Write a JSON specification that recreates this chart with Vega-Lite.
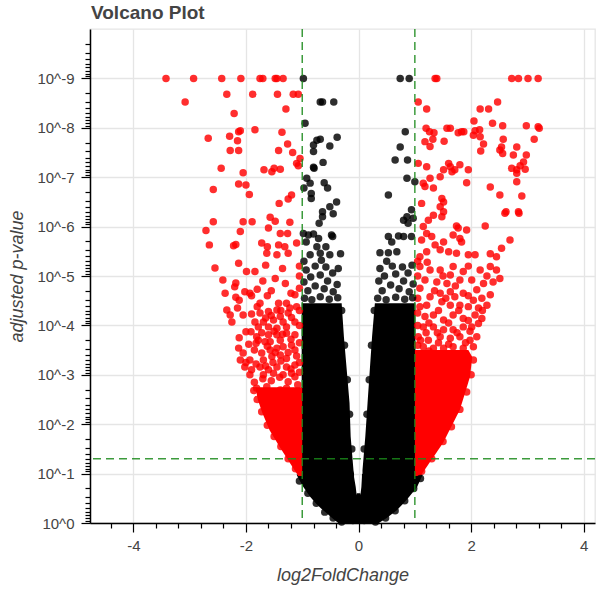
{
"$schema": "https://vega.github.io/schema/vega-lite/v6.json",
"width": 505, "height": 494,
"autosize": {"type": "none"},
"padding": {"left": 90, "top": 29, "right": 10, "bottom": 68},
"background": "white",
"title": {"text": "Volcano Plot", "anchor": "start", "frame": "group", "fontSize": 19, "font": "Liberation Sans", "fontWeight": "bold", "color": "#444444", "offset": 5, "dx": 1},
"config": {
 "view": {"stroke": "#e5e5e5", "strokeWidth": 1.3},
 "axis": {"labelFont": "Liberation Sans", "labelFontSize": 15, "labelColor": "#444444", "titleFont": "Liberation Sans", "titleFontSize": 18, "titleFontStyle": "italic", "titleFontWeight": "normal", "titleColor": "#444444", "domainColor": "#000000", "domainWidth": 1.5, "tickColor": "#000000", "tickWidth": 1.2, "gridColor": "#e5e5e5", "gridWidth": 1.3, "labelOverlap": false, "labelFlush": false, "tickCount": 1000}
},
"datasets": {
 "core": [
  {"grp":"bc","sig":"no","nlp":0.0,"lfc":-0.32,"lfc2":0.32},
  {"grp":"bc","sig":"no","nlp":0.2,"lfc":-0.2,"lfc2":0.2},
  {"grp":"bc","sig":"no","nlp":0.4,"lfc":-0.1,"lfc2":0.1},
  {"grp":"bc","sig":"no","nlp":0.6,"lfc":-0.03,"lfc2":0.03},
  {"grp":"bl","sig":"no","nlp":0.0,"lfc":-0.36,"lfc2":0.08},
  {"grp":"bl","sig":"no","nlp":0.1,"lfc":-0.47,"lfc2":0.08},
  {"grp":"bl","sig":"no","nlp":0.2,"lfc":-0.57,"lfc2":0.06},
  {"grp":"bl","sig":"no","nlp":0.3,"lfc":-0.67,"lfc2":0.04},
  {"grp":"bl","sig":"no","nlp":0.4,"lfc":-0.76,"lfc2":-0.01},
  {"grp":"bl","sig":"no","nlp":0.53,"lfc":-0.86,"lfc2":-0.03},
  {"grp":"bl","sig":"no","nlp":0.73,"lfc":-0.98,"lfc2":-0.05},
  {"grp":"bl","sig":"no","nlp":0.93,"lfc":-1.08,"lfc2":-0.08},
  {"grp":"bl","sig":"no","nlp":0.98,"lfc":-1.1,"lfc2":-0.08},
  {"grp":"bl","sig":"no","nlp":1.0,"lfc":-1.01,"lfc2":-0.08},
  {"grp":"bl","sig":"no","nlp":1.07,"lfc":-1.01,"lfc2":-0.09},
  {"grp":"bl","sig":"no","nlp":1.75,"lfc":-1.01,"lfc2":-0.14},
  {"grp":"bl","sig":"no","nlp":2.43,"lfc":-1.01,"lfc2":-0.16},
  {"grp":"bl","sig":"no","nlp":3.1,"lfc":-1.01,"lfc2":-0.21},
  {"grp":"bl","sig":"no","nlp":3.77,"lfc":-1.01,"lfc2":-0.26},
  {"grp":"bl","sig":"no","nlp":4.45,"lfc":-1.01,"lfc2":-0.3},
  {"grp":"br","sig":"no","nlp":0.0,"lfc":-0.08,"lfc2":0.36},
  {"grp":"br","sig":"no","nlp":0.1,"lfc":-0.08,"lfc2":0.5},
  {"grp":"br","sig":"no","nlp":0.26,"lfc":-0.05,"lfc2":0.68},
  {"grp":"br","sig":"no","nlp":0.4,"lfc":0.01,"lfc2":0.8},
  {"grp":"br","sig":"no","nlp":0.53,"lfc":0.03,"lfc2":0.9},
  {"grp":"br","sig":"no","nlp":0.73,"lfc":0.05,"lfc2":1.04},
  {"grp":"br","sig":"no","nlp":0.93,"lfc":0.06,"lfc2":1.12},
  {"grp":"br","sig":"no","nlp":0.98,"lfc":0.06,"lfc2":1.14},
  {"grp":"br","sig":"no","nlp":1.0,"lfc":0.07,"lfc2":1.01},
  {"grp":"br","sig":"no","nlp":1.07,"lfc":0.07,"lfc2":1.01},
  {"grp":"br","sig":"no","nlp":1.75,"lfc":0.12,"lfc2":1.01},
  {"grp":"br","sig":"no","nlp":2.43,"lfc":0.16,"lfc2":1.01},
  {"grp":"br","sig":"no","nlp":3.1,"lfc":0.2,"lfc2":1.01},
  {"grp":"br","sig":"no","nlp":3.77,"lfc":0.24,"lfc2":1.01},
  {"grp":"br","sig":"no","nlp":4.45,"lfc":0.29,"lfc2":1.01},
  {"grp":"rl","sig":"yes","nlp":0.95,"lfc":-1.07,"lfc2":-1.0},
  {"grp":"rl","sig":"yes","nlp":1.13,"lfc":-1.17,"lfc2":-1.0},
  {"grp":"rl","sig":"yes","nlp":1.54,"lfc":-1.4,"lfc2":-1.0},
  {"grp":"rl","sig":"yes","nlp":1.88,"lfc":-1.58,"lfc2":-1.0},
  {"grp":"rl","sig":"yes","nlp":2.23,"lfc":-1.71,"lfc2":-1.0},
  {"grp":"rl","sig":"yes","nlp":2.5,"lfc":-1.79,"lfc2":-1.0},
  {"grp":"rl","sig":"yes","nlp":2.75,"lfc":-1.83,"lfc2":-1.0},
  {"grp":"rr","sig":"yes","nlp":0.95,"lfc":1.0,"lfc2":1.1},
  {"grp":"rr","sig":"yes","nlp":1.62,"lfc":1.0,"lfc2":1.5},
  {"grp":"rr","sig":"yes","nlp":2.29,"lfc":1.0,"lfc2":1.8},
  {"grp":"rr","sig":"yes","nlp":2.96,"lfc":1.0,"lfc2":1.98},
  {"grp":"rr","sig":"yes","nlp":3.36,"lfc":1.0,"lfc2":2.02},
  {"grp":"rr","sig":"yes","nlp":3.5,"lfc":1.0,"lfc2":1.95}
 ],
 "pts": [
  {"lfc":-3.42,"nlp":9,"sig":"yes"},{"lfc":-2.93,"nlp":9,"sig":"yes"},{"lfc":-2.43,"nlp":9,"sig":"yes"},{"lfc":-2.09,"nlp":9,"sig":"yes"},{"lfc":-1.75,"nlp":9,"sig":"yes"},{"lfc":-1.7,"nlp":9,"sig":"yes"},{"lfc":-1.48,"nlp":9,"sig":"yes"},{"lfc":-1.45,"nlp":9,"sig":"yes"},{"lfc":-1.34,"nlp":9,"sig":"yes"},{"lfc":1.36,"nlp":9,"sig":"yes"},{"lfc":1.39,"nlp":9,"sig":"yes"},{"lfc":2.72,"nlp":9,"sig":"yes"},{"lfc":2.84,"nlp":9,"sig":"yes"},{"lfc":3.01,"nlp":9,"sig":"yes"},{"lfc":3.19,"nlp":9,"sig":"yes"},
  {"lfc":-0.98,"nlp":9,"sig":"no"},{"lfc":0.74,"nlp":9,"sig":"no"},{"lfc":0.9,"nlp":9,"sig":"no"},
  {"lfc":-3.08,"nlp":8.52,"sig":"yes"},{"lfc":-2.34,"nlp":8.68,"sig":"yes"},{"lfc":-1.88,"nlp":8.68,"sig":"yes"},{"lfc":-1.44,"nlp":8.68,"sig":"yes"},{"lfc":-1.16,"nlp":8.68,"sig":"yes"},{"lfc":-1.07,"nlp":8.68,"sig":"yes"},{"lfc":-1.29,"nlp":8.38,"sig":"yes"},{"lfc":-2.21,"nlp":8.29,"sig":"yes"},{"lfc":-2.1,"nlp":7.94,"sig":"yes"},{"lfc":-1.84,"nlp":7.96,"sig":"yes"},{"lfc":-2.13,"nlp":7.92,"sig":"yes"},{"lfc":-1.36,"nlp":7.91,"sig":"yes"},{"lfc":-2.67,"nlp":7.79,"sig":"yes"},{"lfc":-2.29,"nlp":7.83,"sig":"yes"},{"lfc":-2.15,"nlp":7.74,"sig":"yes"},{"lfc":-2.28,"nlp":7.54,"sig":"yes"},{"lfc":-2.13,"nlp":7.54,"sig":"yes"},{"lfc":-1.42,"nlp":7.54,"sig":"yes"},{"lfc":-1.26,"nlp":7.67,"sig":"yes"},{"lfc":-1.17,"nlp":7.5,"sig":"yes"},{"lfc":-1.04,"nlp":7.38,"sig":"yes"},{"lfc":-1.07,"nlp":7.23,"sig":"yes"},{"lfc":-1.1,"nlp":7.28,"sig":"yes"},{"lfc":-2.44,"nlp":7.18,"sig":"yes"},{"lfc":-2.05,"nlp":7.09,"sig":"yes"},{"lfc":-1.68,"nlp":7.15,"sig":"yes"},{"lfc":-1.54,"nlp":7.11,"sig":"yes"},{"lfc":-1.5,"nlp":7.18,"sig":"yes"},{"lfc":-1.39,"nlp":7.16,"sig":"yes"},{"lfc":-2.58,"nlp":6.75,"sig":"yes"},{"lfc":-2.13,"nlp":6.86,"sig":"yes"},{"lfc":-2.0,"nlp":6.84,"sig":"yes"},{"lfc":-1.94,"nlp":6.65,"sig":"yes"},{"lfc":-1.25,"nlp":6.56,"sig":"yes"},{"lfc":-1.19,"nlp":6.64,"sig":"yes"},{"lfc":-1.41,"nlp":6.47,"sig":"yes"},{"lfc":-2.58,"nlp":6.1,"sig":"yes"},{"lfc":-2.05,"nlp":6.1,"sig":"yes"},{"lfc":-1.89,"nlp":6.1,"sig":"yes"},{"lfc":-1.57,"nlp":6.19,"sig":"yes"},{"lfc":-1.48,"nlp":6.11,"sig":"yes"},{"lfc":-1.22,"nlp":6.09,"sig":"yes"},{"lfc":-2.71,"nlp":5.92,"sig":"yes"},{"lfc":-2.1,"nlp":5.9,"sig":"yes"},{"lfc":-1.6,"nlp":5.97,"sig":"yes"},{"lfc":-1.39,"nlp":5.86,"sig":"yes"},{"lfc":-1.26,"nlp":5.86,"sig":"yes"},{"lfc":-1.1,"nlp":5.67,"sig":"yes"},{"lfc":-2.65,"nlp":5.63,"sig":"yes"},{"lfc":-2.22,"nlp":5.61,"sig":"yes"},{"lfc":-2.18,"nlp":5.64,"sig":"yes"},{"lfc":-1.72,"nlp":5.67,"sig":"yes"},{"lfc":-1.62,"nlp":5.59,"sig":"yes"},{"lfc":-1.42,"nlp":5.63,"sig":"yes"},{"lfc":-1.31,"nlp":5.59,"sig":"yes"},{"lfc":-1.63,"nlp":5.46,"sig":"yes"},{"lfc":-1.45,"nlp":5.43,"sig":"yes"},{"lfc":-1.25,"nlp":5.46,"sig":"yes"},
  {"lfc":-0.68,"nlp":8.52,"sig":"no"},{"lfc":-0.64,"nlp":8.52,"sig":"no"},{"lfc":-0.44,"nlp":8.52,"sig":"no"},{"lfc":-0.95,"nlp":8.09,"sig":"no"},{"lfc":-0.74,"nlp":7.75,"sig":"no"},{"lfc":-0.8,"nlp":7.65,"sig":"no"},{"lfc":-0.68,"nlp":7.77,"sig":"no"},{"lfc":-0.51,"nlp":7.63,"sig":"no"},{"lfc":-0.38,"nlp":7.81,"sig":"no"},{"lfc":-0.8,"nlp":7.52,"sig":"no"},{"lfc":-0.63,"nlp":7.3,"sig":"no"},{"lfc":-0.8,"nlp":7.2,"sig":"no"},{"lfc":-0.79,"nlp":7.18,"sig":"no"},{"lfc":-0.92,"nlp":6.98,"sig":"no"},{"lfc":-0.86,"nlp":6.88,"sig":"no"},{"lfc":-0.61,"nlp":6.89,"sig":"no"},{"lfc":-0.55,"nlp":6.78,"sig":"no"},{"lfc":-0.84,"nlp":6.67,"sig":"no"},{"lfc":-0.84,"nlp":6.57,"sig":"no"},{"lfc":-0.97,"nlp":6.78,"sig":"no"},{"lfc":-0.39,"nlp":6.5,"sig":"no"},{"lfc":-0.51,"nlp":6.4,"sig":"no"},{"lfc":-0.64,"nlp":6.3,"sig":"no"},{"lfc":-0.45,"nlp":6.26,"sig":"no"},{"lfc":-0.64,"nlp":6.2,"sig":"no"},{"lfc":-0.7,"nlp":6.07,"sig":"no"},{"lfc":-0.89,"nlp":5.83,"sig":"no"},{"lfc":-0.8,"nlp":5.85,"sig":"no"},{"lfc":-0.48,"nlp":5.83,"sig":"no"},{"lfc":-0.46,"nlp":5.8,"sig":"no"},{"lfc":-0.71,"nlp":5.76,"sig":"no"},{"lfc":-0.93,"nlp":5.69,"sig":"no"},{"lfc":-0.98,"nlp":5.86,"sig":"no"},{"lfc":-0.58,"nlp":5.59,"sig":"no"},{"lfc":-0.74,"nlp":5.59,"sig":"no"},{"lfc":-0.86,"nlp":5.43,"sig":"no"},{"lfc":-0.68,"nlp":5.46,"sig":"no"},{"lfc":-0.51,"nlp":5.43,"sig":"no"},{"lfc":-0.32,"nlp":5.45,"sig":"no"},
  {"lfc":0.83,"nlp":7.92,"sig":"no"},{"lfc":0.74,"nlp":7.61,"sig":"no"},{"lfc":0.65,"nlp":7.35,"sig":"no"},{"lfc":0.87,"nlp":7.35,"sig":"no"},{"lfc":0.86,"nlp":6.98,"sig":"no"},{"lfc":1.0,"nlp":6.91,"sig":"no"},{"lfc":0.53,"nlp":6.64,"sig":"no"},{"lfc":0.94,"nlp":6.34,"sig":"no"},{"lfc":0.86,"nlp":6.2,"sig":"no"},{"lfc":0.8,"nlp":6.13,"sig":"no"},{"lfc":0.88,"nlp":6.07,"sig":"no"},{"lfc":0.97,"nlp":6.17,"sig":"no"},{"lfc":0.53,"nlp":5.8,"sig":"no"},{"lfc":0.59,"nlp":5.69,"sig":"no"},{"lfc":0.71,"nlp":5.81,"sig":"no"},{"lfc":0.8,"nlp":5.8,"sig":"no"},{"lfc":0.94,"nlp":5.8,"sig":"no"},{"lfc":0.38,"nlp":5.47,"sig":"no"},{"lfc":0.53,"nlp":5.47,"sig":"no"},{"lfc":0.68,"nlp":5.49,"sig":"no"},
  {"lfc":1.06,"nlp":8.52,"sig":"yes"},{"lfc":1.21,"nlp":8.38,"sig":"yes"},{"lfc":1.2,"nlp":7.99,"sig":"yes"},{"lfc":1.26,"nlp":7.92,"sig":"yes"},{"lfc":1.34,"nlp":7.9,"sig":"yes"},{"lfc":1.57,"nlp":7.99,"sig":"yes"},{"lfc":1.32,"nlp":7.77,"sig":"yes"},{"lfc":1.18,"nlp":7.72,"sig":"yes"},{"lfc":1.52,"nlp":7.73,"sig":"yes"},{"lfc":1.27,"nlp":7.62,"sig":"yes"},{"lfc":1.06,"nlp":7.28,"sig":"yes"},{"lfc":1.21,"nlp":7.21,"sig":"yes"},{"lfc":1.51,"nlp":7.15,"sig":"yes"},{"lfc":1.6,"nlp":7.28,"sig":"yes"},{"lfc":1.45,"nlp":7.01,"sig":"yes"},{"lfc":1.27,"nlp":6.98,"sig":"yes"},{"lfc":1.15,"nlp":6.88,"sig":"yes"},{"lfc":1.18,"nlp":6.81,"sig":"yes"},{"lfc":1.33,"nlp":6.78,"sig":"yes"},{"lfc":1.48,"nlp":6.57,"sig":"yes"},{"lfc":1.51,"nlp":6.5,"sig":"yes"},{"lfc":1.45,"nlp":6.4,"sig":"yes"},{"lfc":1.12,"nlp":6.47,"sig":"yes"},{"lfc":1.24,"nlp":6.13,"sig":"yes"},{"lfc":1.33,"nlp":6.23,"sig":"yes"},{"lfc":1.51,"nlp":6.3,"sig":"yes"},{"lfc":1.48,"nlp":6.2,"sig":"yes"},{"lfc":1.15,"nlp":6.0,"sig":"yes"},{"lfc":1.21,"nlp":5.86,"sig":"yes"},{"lfc":1.12,"nlp":5.73,"sig":"yes"},{"lfc":1.3,"nlp":5.8,"sig":"yes"},{"lfc":1.36,"nlp":5.63,"sig":"yes"},{"lfc":1.51,"nlp":5.69,"sig":"yes"},{"lfc":1.45,"nlp":5.53,"sig":"yes"},{"lfc":1.6,"nlp":5.49,"sig":"yes"},{"lfc":1.21,"nlp":5.49,"sig":"yes"},{"lfc":1.09,"nlp":5.39,"sig":"yes"},
  {"lfc":2.47,"nlp":8.52,"sig":"yes"},{"lfc":2.16,"nlp":8.38,"sig":"yes"},{"lfc":2.31,"nlp":8.38,"sig":"yes"},{"lfc":2.05,"nlp":8.14,"sig":"yes"},{"lfc":2.38,"nlp":8.09,"sig":"yes"},{"lfc":2.56,"nlp":8.04,"sig":"yes"},{"lfc":2.98,"nlp":8.04,"sig":"yes"},{"lfc":3.19,"nlp":8.02,"sig":"yes"},{"lfc":3.21,"nlp":7.99,"sig":"yes"},{"lfc":1.63,"nlp":7.99,"sig":"yes"},{"lfc":1.77,"nlp":7.9,"sig":"yes"},{"lfc":1.83,"nlp":7.92,"sig":"yes"},{"lfc":1.87,"nlp":7.92,"sig":"yes"},{"lfc":2.07,"nlp":7.94,"sig":"yes"},{"lfc":2.15,"nlp":7.96,"sig":"yes"},{"lfc":2.04,"nlp":7.85,"sig":"yes"},{"lfc":2.16,"nlp":7.82,"sig":"yes"},{"lfc":2.22,"nlp":7.67,"sig":"yes"},{"lfc":2.17,"nlp":7.53,"sig":"yes"},{"lfc":2.57,"nlp":7.77,"sig":"yes"},{"lfc":2.54,"nlp":7.61,"sig":"yes"},{"lfc":2.51,"nlp":7.55,"sig":"yes"},{"lfc":2.56,"nlp":7.48,"sig":"yes"},{"lfc":3.12,"nlp":7.77,"sig":"yes"},{"lfc":2.81,"nlp":7.61,"sig":"yes"},{"lfc":2.75,"nlp":7.45,"sig":"yes"},{"lfc":2.98,"nlp":7.45,"sig":"yes"},{"lfc":2.93,"nlp":7.31,"sig":"yes"},{"lfc":2.72,"nlp":7.18,"sig":"yes"},{"lfc":2.81,"nlp":7.15,"sig":"yes"},{"lfc":2.96,"nlp":7.16,"sig":"yes"},{"lfc":2.81,"nlp":7.08,"sig":"yes"},{"lfc":2.87,"nlp":7.23,"sig":"yes"},{"lfc":1.63,"nlp":7.21,"sig":"yes"},{"lfc":1.71,"nlp":7.15,"sig":"yes"},{"lfc":1.8,"nlp":7.25,"sig":"yes"},{"lfc":1.95,"nlp":7.15,"sig":"yes"},{"lfc":1.66,"nlp":7.11,"sig":"yes"},{"lfc":2.81,"nlp":6.91,"sig":"yes"},{"lfc":1.92,"nlp":6.89,"sig":"yes"},{"lfc":2.34,"nlp":6.8,"sig":"yes"},{"lfc":2.51,"nlp":6.64,"sig":"yes"},{"lfc":2.9,"nlp":6.62,"sig":"yes"},{"lfc":2.62,"nlp":6.3,"sig":"yes"},{"lfc":2.6,"nlp":6.27,"sig":"yes"},{"lfc":2.84,"nlp":6.3,"sig":"yes"},{"lfc":2.85,"nlp":6.27,"sig":"yes"},{"lfc":2.25,"nlp":6.01,"sig":"yes"},{"lfc":1.74,"nlp":6.01,"sig":"yes"},{"lfc":1.77,"nlp":5.97,"sig":"yes"},{"lfc":1.92,"nlp":5.93,"sig":"yes"},{"lfc":1.68,"nlp":5.83,"sig":"yes"},{"lfc":1.8,"nlp":5.76,"sig":"yes"},{"lfc":1.83,"nlp":5.69,"sig":"yes"},{"lfc":2.69,"nlp":5.73,"sig":"yes"},{"lfc":2.54,"nlp":5.56,"sig":"yes"},{"lfc":2.34,"nlp":5.45,"sig":"yes"},{"lfc":2.45,"nlp":5.39,"sig":"yes"},{"lfc":2.07,"nlp":5.43,"sig":"yes"},{"lfc":1.95,"nlp":5.43,"sig":"yes"},{"lfc":1.74,"nlp":5.46,"sig":"yes"},
  {"lfc":-2.55,"nlp":5.16,"sig":"yes"},{"lfc":-2.13,"nlp":5.26,"sig":"yes"},{"lfc":-1.99,"nlp":5.09,"sig":"yes"},{"lfc":-1.84,"nlp":5.09,"sig":"yes"},{"lfc":-2.41,"nlp":4.92,"sig":"yes"},{"lfc":-2.18,"nlp":4.86,"sig":"yes"},{"lfc":-2.37,"nlp":4.65,"sig":"yes"},{"lfc":-2.02,"nlp":4.68,"sig":"yes"},{"lfc":-1.93,"nlp":4.65,"sig":"yes"},{"lfc":-1.8,"nlp":4.73,"sig":"yes"},{"lfc":-1.62,"nlp":4.6,"sig":"yes"},{"lfc":-2.18,"nlp":4.57,"sig":"yes"},{"lfc":-2.12,"nlp":4.51,"sig":"yes"},{"lfc":-1.9,"nlp":4.6,"sig":"yes"},{"lfc":-1.75,"nlp":4.45,"sig":"yes"},{"lfc":-1.8,"nlp":4.38,"sig":"yes"},{"lfc":-1.42,"nlp":4.45,"sig":"yes"},{"lfc":-1.28,"nlp":4.45,"sig":"yes"},{"lfc":-1.1,"nlp":4.38,"sig":"yes"},{"lfc":-1.13,"nlp":4.62,"sig":"yes"},{"lfc":-2.34,"nlp":4.31,"sig":"yes"},{"lfc":-2.28,"nlp":4.21,"sig":"yes"},{"lfc":-2.25,"nlp":4.07,"sig":"yes"},{"lfc":-2.05,"nlp":4.21,"sig":"yes"},{"lfc":-1.9,"nlp":4.23,"sig":"yes"},{"lfc":-1.75,"nlp":4.25,"sig":"yes"},{"lfc":-1.6,"nlp":4.28,"sig":"yes"},{"lfc":-1.45,"nlp":4.31,"sig":"yes"},{"lfc":-1.25,"nlp":4.25,"sig":"yes"},{"lfc":-1.39,"nlp":4.18,"sig":"yes"},{"lfc":-1.19,"nlp":4.16,"sig":"yes"},{"lfc":-1.84,"nlp":4.07,"sig":"yes"},{"lfc":-1.69,"nlp":4.07,"sig":"yes"},{"lfc":-1.51,"nlp":4.11,"sig":"yes"},{"lfc":-1.34,"nlp":4.07,"sig":"yes"},{"lfc":-1.13,"nlp":4.07,"sig":"yes"},{"lfc":-1.28,"nlp":3.97,"sig":"yes"},{"lfc":-1.45,"nlp":3.94,"sig":"yes"},{"lfc":-1.6,"nlp":3.97,"sig":"yes"},{"lfc":-1.78,"nlp":3.97,"sig":"yes"},{"lfc":-2.0,"nlp":3.87,"sig":"yes"},{"lfc":-1.91,"nlp":3.87,"sig":"yes"},{"lfc":-1.81,"nlp":3.77,"sig":"yes"},{"lfc":-1.6,"nlp":3.81,"sig":"yes"},{"lfc":-1.45,"nlp":3.81,"sig":"yes"},{"lfc":-1.28,"nlp":3.84,"sig":"yes"},{"lfc":-1.13,"nlp":3.81,"sig":"yes"},{"lfc":-1.39,"nlp":3.7,"sig":"yes"},{"lfc":-1.57,"nlp":3.67,"sig":"yes"},{"lfc":-1.66,"nlp":3.67,"sig":"yes"},{"lfc":-1.78,"nlp":3.7,"sig":"yes"},{"lfc":-1.82,"nlp":3.64,"sig":"yes"},{"lfc":-2.13,"nlp":3.54,"sig":"yes"},{"lfc":-2.05,"nlp":3.44,"sig":"yes"},{"lfc":-1.93,"nlp":3.3,"sig":"yes"},{"lfc":-2.1,"nlp":3.3,"sig":"yes"},{"lfc":-1.72,"nlp":3.44,"sig":"yes"},{"lfc":-1.57,"nlp":3.5,"sig":"yes"},{"lfc":-1.45,"nlp":3.54,"sig":"yes"},{"lfc":-1.34,"nlp":3.57,"sig":"yes"},{"lfc":-1.19,"nlp":3.6,"sig":"yes"},{"lfc":-1.13,"nlp":3.5,"sig":"yes"},{"lfc":-1.39,"nlp":3.4,"sig":"yes"},{"lfc":-1.54,"nlp":3.37,"sig":"yes"},{"lfc":-1.69,"nlp":3.3,"sig":"yes"},{"lfc":-1.28,"nlp":3.33,"sig":"yes"},{"lfc":-2.02,"nlp":3.16,"sig":"yes"},{"lfc":-1.9,"nlp":3.1,"sig":"yes"},{"lfc":-1.75,"nlp":3.16,"sig":"yes"},{"lfc":-1.6,"nlp":3.1,"sig":"yes"},{"lfc":-1.45,"nlp":3.16,"sig":"yes"},{"lfc":-1.28,"nlp":3.16,"sig":"yes"},{"lfc":-1.13,"nlp":3.2,"sig":"yes"},{"lfc":-1.93,"nlp":3.0,"sig":"yes"},{"lfc":-1.69,"nlp":3.0,"sig":"yes"},{"lfc":-1.51,"nlp":3.03,"sig":"yes"},{"lfc":-1.34,"nlp":3.0,"sig":"yes"},{"lfc":-1.19,"nlp":3.03,"sig":"yes"},{"lfc":-1.13,"nlp":2.96,"sig":"yes"},{"lfc":-1.81,"nlp":2.73,"sig":"yes"},{"lfc":-1.72,"nlp":2.63,"sig":"yes"},{"lfc":-1.63,"nlp":2.76,"sig":"yes"},{"lfc":-1.57,"nlp":2.56,"sig":"yes"},{"lfc":-1.39,"nlp":2.69,"sig":"yes"},{"lfc":-1.28,"nlp":2.73,"sig":"yes"},{"lfc":-1.16,"nlp":2.66,"sig":"yes"},
  {"lfc":-1.85,"nlp":2.85,"sig":"yes"},{"lfc":-1.55,"nlp":2.88,"sig":"yes"},{"lfc":-1.25,"nlp":2.86,"sig":"yes"},{"lfc":-1.4,"nlp":2.95,"sig":"yes"},{"lfc":-1.7,"nlp":2.92,"sig":"yes"},{"lfc":-1.08,"nlp":2.8,"sig":"yes"},{"lfc":-1.82,"nlp":3.22,"sig":"yes"},{"lfc":-1.52,"nlp":3.25,"sig":"yes"},{"lfc":-1.2,"nlp":3.12,"sig":"yes"},{"lfc":-1.38,"nlp":3.28,"sig":"yes"},{"lfc":-1.65,"nlp":3.18,"sig":"yes"},{"lfc":-2.0,"nlp":3.25,"sig":"yes"},{"lfc":-1.62,"nlp":3.58,"sig":"yes"},{"lfc":-1.25,"nlp":3.45,"sig":"yes"},{"lfc":-1.48,"nlp":3.45,"sig":"yes"},{"lfc":-1.85,"nlp":3.5,"sig":"yes"},{"lfc":-1.1,"nlp":3.38,"sig":"yes"},{"lfc":-1.95,"nlp":3.62,"sig":"yes"},{"lfc":-1.5,"nlp":3.88,"sig":"yes"},{"lfc":-1.2,"nlp":3.72,"sig":"yes"},{"lfc":-1.72,"nlp":3.85,"sig":"yes"},{"lfc":-1.35,"nlp":3.82,"sig":"yes"},{"lfc":-2.12,"nlp":3.75,"sig":"yes"},{"lfc":-1.55,"nlp":4.2,"sig":"yes"},{"lfc":-1.22,"nlp":4.35,"sig":"yes"},{"lfc":-1.65,"nlp":4.15,"sig":"yes"},{"lfc":-2.15,"nlp":4.35,"sig":"yes"},{"lfc":-1.38,"nlp":4.3,"sig":"yes"},{"lfc":-1.55,"nlp":4.7,"sig":"yes"},{"lfc":-1.3,"nlp":4.85,"sig":"yes"},{"lfc":-1.48,"nlp":4.95,"sig":"yes"},{"lfc":-2.2,"nlp":4.78,"sig":"yes"},{"lfc":-1.7,"nlp":4.9,"sig":"yes"},{"lfc":-1.2,"nlp":4.65,"sig":"yes"},{"lfc":-1.65,"nlp":5.22,"sig":"yes"},{"lfc":-1.35,"nlp":5.15,"sig":"yes"},
  {"lfc":-1.05,"nlp":3.05,"sig":"yes"},{"lfc":-1.05,"nlp":3.25,"sig":"yes"},{"lfc":-1.05,"nlp":3.65,"sig":"yes"},{"lfc":-1.05,"nlp":4.0,"sig":"yes"},{"lfc":-1.05,"nlp":4.3,"sig":"yes"},{"lfc":-1.05,"nlp":4.75,"sig":"yes"},{"lfc":-1.05,"nlp":5.0,"sig":"yes"},{"lfc":-1.05,"nlp":5.2,"sig":"yes"},
  {"lfc":-1.12,"nlp":1.1,"sig":"yes"},{"lfc":-1.25,"nlp":1.3,"sig":"yes"},{"lfc":-1.38,"nlp":1.55,"sig":"yes"},{"lfc":-1.5,"nlp":1.75,"sig":"yes"},{"lfc":-1.62,"nlp":1.98,"sig":"yes"},{"lfc":-1.72,"nlp":2.25,"sig":"yes"},{"lfc":-1.8,"nlp":2.5,"sig":"yes"},{"lfc":-1.86,"nlp":2.68,"sig":"yes"},
  {"lfc":1.12,"nlp":1.05,"sig":"yes"},{"lfc":1.3,"nlp":1.3,"sig":"yes"},{"lfc":1.5,"nlp":1.65,"sig":"yes"},{"lfc":1.65,"nlp":1.95,"sig":"yes"},{"lfc":1.8,"nlp":2.3,"sig":"yes"},{"lfc":1.92,"nlp":2.65,"sig":"yes"},{"lfc":2.0,"nlp":3.0,"sig":"yes"},{"lfc":2.04,"nlp":3.3,"sig":"yes"},
  {"lfc":1.09,"nlp":5.19,"sig":"yes"},{"lfc":1.27,"nlp":5.12,"sig":"yes"},{"lfc":1.45,"nlp":5.12,"sig":"yes"},{"lfc":1.68,"nlp":5.19,"sig":"yes"},{"lfc":1.63,"nlp":5.02,"sig":"yes"},{"lfc":1.86,"nlp":5.09,"sig":"yes"},{"lfc":2.16,"nlp":5.12,"sig":"yes"},{"lfc":2.34,"nlp":5.19,"sig":"yes"},{"lfc":2.45,"nlp":5.12,"sig":"yes"},{"lfc":2.51,"nlp":4.95,"sig":"yes"},{"lfc":2.39,"nlp":4.88,"sig":"yes"},{"lfc":2.22,"nlp":4.85,"sig":"yes"},{"lfc":2.01,"nlp":4.92,"sig":"yes"},{"lfc":1.8,"nlp":4.92,"sig":"yes"},{"lfc":1.57,"nlp":4.85,"sig":"yes"},{"lfc":1.39,"nlp":4.88,"sig":"yes"},{"lfc":1.18,"nlp":4.92,"sig":"yes"},{"lfc":1.09,"nlp":4.75,"sig":"yes"},
  {"lfc":1.27,"nlp":4.58,"sig":"yes"},{"lfc":1.45,"nlp":4.65,"sig":"yes"},{"lfc":1.63,"nlp":4.68,"sig":"yes"},{"lfc":1.71,"nlp":4.58,"sig":"yes"},{"lfc":1.86,"nlp":4.65,"sig":"yes"},{"lfc":2.04,"nlp":4.51,"sig":"yes"},{"lfc":2.19,"nlp":4.55,"sig":"yes"},{"lfc":2.34,"nlp":4.62,"sig":"yes"},{"lfc":2.28,"nlp":4.41,"sig":"yes"},{"lfc":2.13,"nlp":4.35,"sig":"yes"},{"lfc":1.95,"nlp":4.38,"sig":"yes"},{"lfc":1.8,"nlp":4.41,"sig":"yes"},{"lfc":1.63,"nlp":4.41,"sig":"yes"},{"lfc":1.48,"nlp":4.48,"sig":"yes"},{"lfc":1.21,"nlp":4.41,"sig":"yes"},{"lfc":1.09,"nlp":4.38,"sig":"yes"},
  {"lfc":1.18,"nlp":4.18,"sig":"yes"},{"lfc":1.33,"nlp":4.21,"sig":"yes"},{"lfc":1.51,"nlp":4.11,"sig":"yes"},{"lfc":1.68,"nlp":4.21,"sig":"yes"},{"lfc":1.86,"nlp":4.14,"sig":"yes"},{"lfc":2.07,"nlp":4.21,"sig":"yes"},{"lfc":2.19,"nlp":4.14,"sig":"yes"},{"lfc":2.13,"nlp":4.04,"sig":"yes"},{"lfc":2.01,"nlp":3.97,"sig":"yes"},{"lfc":1.86,"nlp":3.97,"sig":"yes"},{"lfc":1.68,"nlp":3.91,"sig":"yes"},{"lfc":1.51,"nlp":3.91,"sig":"yes"},{"lfc":1.33,"nlp":3.97,"sig":"yes"},{"lfc":1.15,"nlp":3.97,"sig":"yes"},{"lfc":1.06,"nlp":3.77,"sig":"yes"},{"lfc":1.24,"nlp":3.7,"sig":"yes"},{"lfc":1.45,"nlp":3.77,"sig":"yes"},{"lfc":1.63,"nlp":3.74,"sig":"yes"},{"lfc":1.8,"nlp":3.77,"sig":"yes"},{"lfc":1.98,"nlp":3.7,"sig":"yes"},{"lfc":2.1,"nlp":3.77,"sig":"yes"},{"lfc":2.04,"nlp":3.57,"sig":"yes"},{"lfc":1.86,"nlp":3.54,"sig":"yes"},{"lfc":1.68,"nlp":3.57,"sig":"yes"},{"lfc":1.51,"nlp":3.54,"sig":"yes"},{"lfc":1.33,"nlp":3.54,"sig":"yes"},{"lfc":1.15,"nlp":3.57,"sig":"yes"},
  {"lfc":1.25,"nlp":3.48,"sig":"yes"},{"lfc":1.6,"nlp":3.62,"sig":"yes"},{"lfc":1.9,"nlp":3.65,"sig":"yes"},{"lfc":1.42,"nlp":3.65,"sig":"yes"},{"lfc":1.1,"nlp":3.7,"sig":"yes"},{"lfc":1.75,"nlp":3.85,"sig":"yes"},{"lfc":1.4,"nlp":3.85,"sig":"yes"},{"lfc":1.98,"nlp":3.88,"sig":"yes"},{"lfc":1.2,"nlp":3.85,"sig":"yes"},{"lfc":1.6,"nlp":4.05,"sig":"yes"},{"lfc":1.95,"nlp":4.1,"sig":"yes"},{"lfc":1.25,"nlp":4.05,"sig":"yes"},{"lfc":1.42,"nlp":4.3,"sig":"yes"},{"lfc":1.78,"nlp":4.3,"sig":"yes"},{"lfc":2.2,"nlp":4.3,"sig":"yes"},{"lfc":1.55,"nlp":4.55,"sig":"yes"},{"lfc":1.95,"nlp":4.6,"sig":"yes"},{"lfc":1.35,"nlp":4.7,"sig":"yes"},{"lfc":1.72,"nlp":4.8,"sig":"yes"},{"lfc":2.1,"nlp":4.72,"sig":"yes"},{"lfc":1.5,"nlp":5.0,"sig":"yes"},{"lfc":1.95,"nlp":5.2,"sig":"yes"},{"lfc":1.22,"nlp":5.28,"sig":"yes"},{"lfc":2.28,"nlp":5.0,"sig":"yes"},
  {"lfc":1.05,"nlp":3.6,"sig":"yes"},{"lfc":1.05,"nlp":4.0,"sig":"yes"},{"lfc":1.05,"nlp":4.25,"sig":"yes"},{"lfc":1.05,"nlp":4.55,"sig":"yes"},{"lfc":1.05,"nlp":5.0,"sig":"yes"},{"lfc":1.05,"nlp":5.3,"sig":"yes"},
  {"lfc":-1.05,"nlp":0.85,"sig":"no"},{"lfc":-0.9,"nlp":0.6,"sig":"no"},{"lfc":-0.75,"nlp":0.4,"sig":"no"},{"lfc":-0.6,"nlp":0.22,"sig":"no"},{"lfc":-0.45,"nlp":0.1,"sig":"no"},{"lfc":-0.3,"nlp":0.02,"sig":"no"},
  {"lfc":0.3,"nlp":0.02,"sig":"no"},{"lfc":0.48,"nlp":0.1,"sig":"no"},{"lfc":0.65,"nlp":0.25,"sig":"no"},{"lfc":0.82,"nlp":0.45,"sig":"no"},{"lfc":0.98,"nlp":0.7,"sig":"no"},{"lfc":1.1,"nlp":0.9,"sig":"no"},
  {"lfc":-0.12,"nlp":1.5,"sig":"no"},{"lfc":-0.16,"nlp":2.2,"sig":"no"},{"lfc":-0.2,"nlp":2.9,"sig":"no"},{"lfc":-0.25,"nlp":3.6,"sig":"no"},{"lfc":-0.3,"nlp":4.3,"sig":"no"},
  {"lfc":0.1,"nlp":1.5,"sig":"no"},{"lfc":0.15,"nlp":2.2,"sig":"no"},{"lfc":0.19,"nlp":2.9,"sig":"no"},{"lfc":0.23,"nlp":3.6,"sig":"no"},{"lfc":0.28,"nlp":4.3,"sig":"no"},
  {"lfc":-0.05,"nlp":0.3,"sig":"no"},{"lfc":0.05,"nlp":0.3,"sig":"no"},{"lfc":0.0,"nlp":0.15,"sig":"no"},{"lfc":-0.1,"nlp":0.05,"sig":"no"},{"lfc":0.1,"nlp":0.05,"sig":"no"},
  {"lfc":-0.96,"nlp":4.55,"sig":"no"},{"lfc":-0.83,"nlp":4.52,"sig":"no"},{"lfc":-0.68,"nlp":4.58,"sig":"no"},{"lfc":-0.52,"nlp":4.53,"sig":"no"},{"lfc":-0.37,"nlp":4.56,"sig":"no"},{"lfc":-0.9,"nlp":4.7,"sig":"no"},{"lfc":-0.61,"nlp":4.74,"sig":"no"},{"lfc":-0.45,"nlp":4.68,"sig":"no"},{"lfc":-0.77,"nlp":4.8,"sig":"no"},{"lfc":-0.97,"nlp":4.88,"sig":"no"},{"lfc":-0.55,"nlp":4.9,"sig":"no"},{"lfc":-0.38,"nlp":4.83,"sig":"no"},{"lfc":-0.85,"nlp":4.98,"sig":"no"},{"lfc":-0.68,"nlp":5.02,"sig":"no"},{"lfc":-0.46,"nlp":5.06,"sig":"no"},{"lfc":-0.93,"nlp":5.12,"sig":"no"},{"lfc":-0.58,"nlp":5.18,"sig":"no"},{"lfc":-0.77,"nlp":5.2,"sig":"no"},{"lfc":-0.36,"nlp":5.15,"sig":"no"},{"lfc":-0.97,"nlp":5.3,"sig":"no"},{"lfc":-0.66,"nlp":5.32,"sig":"no"},
  {"lfc":0.34,"nlp":4.55,"sig":"no"},{"lfc":0.49,"nlp":4.52,"sig":"no"},{"lfc":0.66,"nlp":4.57,"sig":"no"},{"lfc":0.82,"nlp":4.53,"sig":"no"},{"lfc":0.96,"nlp":4.56,"sig":"no"},{"lfc":0.42,"nlp":4.7,"sig":"no"},{"lfc":0.72,"nlp":4.74,"sig":"no"},{"lfc":0.9,"nlp":4.68,"sig":"no"},{"lfc":0.57,"nlp":4.82,"sig":"no"},{"lfc":0.36,"nlp":4.9,"sig":"no"},{"lfc":0.8,"nlp":4.9,"sig":"no"},{"lfc":0.97,"nlp":4.84,"sig":"no"},{"lfc":0.46,"nlp":5.0,"sig":"no"},{"lfc":0.66,"nlp":5.04,"sig":"no"},{"lfc":0.88,"nlp":5.06,"sig":"no"},{"lfc":0.38,"nlp":5.15,"sig":"no"},{"lfc":0.6,"nlp":5.2,"sig":"no"},{"lfc":0.78,"nlp":5.18,"sig":"no"},{"lfc":0.95,"nlp":5.22,"sig":"no"},{"lfc":0.5,"nlp":5.3,"sig":"no"}
 ],
 "vl": [{"lfc": -1}, {"lfc": 1}],
 "hl": [{"nlp": 1.3}]
},
"layer": [
 {"data": {"name": "core"}, "mark": {"type": "area", "orient": "horizontal"},
  "encoding": {
   "y": {"field": "nlp", "type": "quantitative", "scale": {"domain": [0, 10], "nice": false, "zero": false},
    "axis": {"title": "adjusted p-value", "titlePadding": 10, "tickCount": 1000,
     "values": [0,0.046,0.097,0.155,0.222,0.301,0.398,0.523,0.699,1,1.046,1.097,1.155,1.222,1.301,1.398,1.523,1.699,2,2.046,2.097,2.155,2.222,2.301,2.398,2.523,2.699,3,3.046,3.097,3.155,3.222,3.301,3.398,3.523,3.699,4,4.046,4.097,4.155,4.222,4.301,4.398,4.523,4.699,5,5.046,5.097,5.155,5.222,5.301,5.398,5.523,5.699,6,6.046,6.097,6.155,6.222,6.301,6.398,6.523,6.699,7,7.046,7.097,7.155,7.222,7.301,7.398,7.523,7.699,8,8.046,8.097,8.155,8.222,8.301,8.398,8.523,8.699,9,9.046,9.097,9.155,9.222,9.301,9.398,9.523,9.699],
     "labelExpr": "datum.value % 1 == 0 ? (datum.value == 0 ? '10^0' : '10^-' + datum.value) : ''",
     "gridOpacity": {"condition": {"test": "datum.value % 1 == 0", "value": 1}, "value": 0},
     "tickSize": {"condition": {"test": "datum.value % 1 == 0", "value": 9}, "value": 5},
     "labelPadding": 7}},
   "x": {"field": "lfc", "type": "quantitative", "stack": null, "scale": {"domain": [-4.77, 4.2], "nice": false, "zero": false},
    "axis": {"title": "log2FoldChange", "titlePadding": 13, "tickCount": 1000,
     "values": [-4.4,-4,-3.6,-3.2,-2.8,-2.4,-2,-1.6,-1.2,-0.8,-0.4,0,0.4,0.8,1.2,1.6,2,2.4,2.8,3.2,3.6,4],
     "labelExpr": "abs(datum.value % 2) < 0.001 ? '' + datum.value : ''",
     "gridOpacity": {"condition": {"test": "abs(datum.value % 2) < 0.001", "value": 1}, "value": 0},
     "tickSize": {"condition": {"test": "abs(datum.value % 2) < 0.001", "value": 9}, "value": 5},
     "labelPadding": 6}},
   "x2": {"field": "lfc2"},
   "detail": {"field": "grp"},
   "color": {"field": "sig", "type": "nominal", "scale": {"domain": ["no", "yes"], "range": ["#000000", "#ff0000"]}, "legend": null}
  }},
 {"data": {"name": "pts"}, "mark": {"type": "circle", "size": 56, "opacity": 0.82},
  "encoding": {
   "x": {"field": "lfc", "type": "quantitative"},
   "y": {"field": "nlp", "type": "quantitative"},
   "color": {"field": "sig", "type": "nominal", "scale": {"domain": ["no", "yes"], "range": ["#000000", "#ff0000"]}, "legend": null}
  }},
 {"data": {"name": "vl"}, "mark": {"type": "rule", "color": "#1a8a1a", "strokeDash": [8, 5], "strokeWidth": 1.5, "opacity": 0.85},
  "encoding": {"x": {"field": "lfc", "type": "quantitative"}}},
 {"data": {"name": "hl"}, "mark": {"type": "rule", "color": "#1a8a1a", "strokeDash": [8, 5], "strokeWidth": 1.5, "opacity": 0.85},
  "encoding": {"y": {"field": "nlp", "type": "quantitative"}}}
]
}
